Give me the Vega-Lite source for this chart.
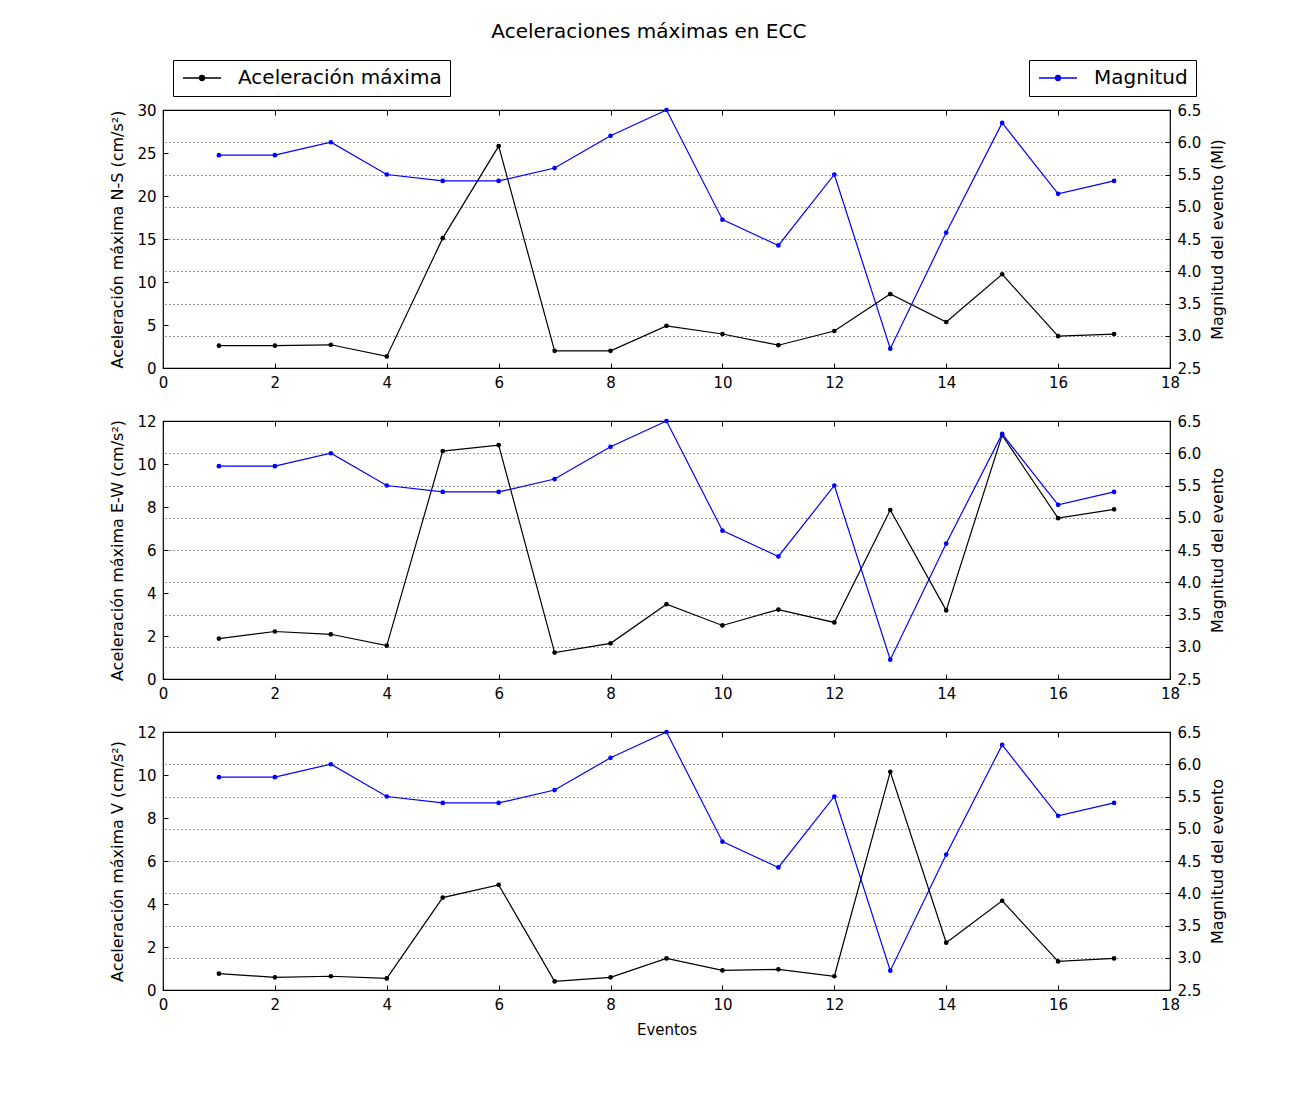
{
  "$schema": "https://vega.github.io/schema/vega-lite/v6.json",
  "padding": {"left": 109, "top": 21, "right": 10, "bottom": 10},
  "title": {"text": "Aceleraciones máximas en ECC", "fontSize": 20, "font": "DejaVu Sans", "fontWeight": "normal", "anchor": "middle", "offset": 17, "dx": -19, "color": "black"},
  "bounds": "flush",
  "spacing": 53,
  "data": {"values": [
    {"e": 1, "ns": 2.6, "ew": 1.88, "v": 0.76, "mag": 5.8},
    {"e": 2, "ns": 2.6, "ew": 2.21, "v": 0.59, "mag": 5.8},
    {"e": 3, "ns": 2.7, "ew": 2.08, "v": 0.64, "mag": 6.0},
    {"e": 4, "ns": 1.35, "ew": 1.55, "v": 0.54, "mag": 5.5},
    {"e": 5, "ns": 15.1, "ew": 10.6, "v": 4.3, "mag": 5.4},
    {"e": 6, "ns": 25.8, "ew": 10.88, "v": 4.89, "mag": 5.4},
    {"e": 7, "ns": 2.0, "ew": 1.23, "v": 0.4, "mag": 5.6},
    {"e": 8, "ns": 2.0, "ew": 1.66, "v": 0.59, "mag": 6.1},
    {"e": 9, "ns": 4.9, "ew": 3.48, "v": 1.47, "mag": 6.5},
    {"e": 10, "ns": 3.95, "ew": 2.49, "v": 0.91, "mag": 4.8},
    {"e": 11, "ns": 2.65, "ew": 3.23, "v": 0.96, "mag": 4.4},
    {"e": 12, "ns": 4.3, "ew": 2.63, "v": 0.64, "mag": 5.5},
    {"e": 13, "ns": 8.6, "ew": 7.86, "v": 10.15, "mag": 2.8},
    {"e": 14, "ns": 5.35, "ew": 3.19, "v": 2.2, "mag": 4.6},
    {"e": 15, "ns": 10.9, "ew": 11.34, "v": 4.15, "mag": 6.3},
    {"e": 16, "ns": 3.7, "ew": 7.48, "v": 1.33, "mag": 5.2},
    {"e": 17, "ns": 3.95, "ew": 7.89, "v": 1.47, "mag": 5.4}
  ]},
  "vconcat": [
    {
      "width": 1007, "height": 258,
      "layer": [
        {
          "mark": {"type": "line", "strokeWidth": 1.2, "point": {"filled": true, "size": 22}},
          "encoding": {
            "x": {"field": "e", "type": "quantitative", "scale": {"domain": [0, 18]}, "axis": {"values": [0,2,4,6,8,10,12,14,16,18], "title": null}},
            "y": {"field": "ns", "type": "quantitative", "scale": {"domain": [0, 30]}, "axis": {"values": [0,5,10,15,20,25,30], "title": "Aceleración máxima N-S (cm/s²)"}},
            "color": {"datum": "Aceleración máxima", "type": "nominal", "scale": {"range": ["black"]},
              "legend": {"orient": "none", "legendX": 10, "legendY": -50, "title": null,
                "symbolType": "M-1,0H3.75M1.685,0A0.31,0.31 0 1 1 1.065,0A0.31,0.31 0 1 1 1.685,0Z",
                "symbolSize": 256, "symbolStrokeWidth": 1.3, "symbolFillColor": "black", "symbolStrokeColor": "black"}}
          }
        },
        {
          "mark": {"type": "line", "strokeWidth": 1.2, "point": {"filled": true, "size": 22}},
          "encoding": {
            "x": {"field": "e", "type": "quantitative", "scale": {"domain": [0, 18]}, "axis": {"orient": "top", "values": [0,2,4,6,8,10,12,14,16,18], "labels": false, "title": null}},
            "y": {"field": "mag", "type": "quantitative", "scale": {"domain": [2.5, 6.5]}, "axis": {"orient": "right", "titleAngle": 270, "titleBaseline": "top", "titlePadding": 9, "values": [2.5,3,3.5,4,4.5,5,5.5,6,6.5], "format": ".1f", "grid": true, "title": "Magnitud del evento (Ml)"}},
            "color": {"datum": "Magnitud", "type": "nominal", "scale": {"range": ["#0000ff"]},
              "legend": {"orient": "none", "legendX": 866, "legendY": -50, "title": null,
                "symbolType": "M-1,0H3.75M1.685,0A0.31,0.31 0 1 1 1.065,0A0.31,0.31 0 1 1 1.685,0Z",
                "symbolSize": 256, "symbolStrokeWidth": 1.3, "symbolFillColor": "#0000ff", "symbolStrokeColor": "#0000ff"}}
          }
        }
      ],
      "resolve": {"scale": {"y": "independent", "color": "independent"}, "axis": {"x": "independent"}}
    },
    {
      "width": 1007, "height": 258,
      "layer": [
        {
          "mark": {"type": "line", "color": "black", "strokeWidth": 1.2, "point": {"filled": true, "size": 22, "color": "black"}},
          "encoding": {
            "x": {"field": "e", "type": "quantitative", "scale": {"domain": [0, 18]}, "axis": {"values": [0,2,4,6,8,10,12,14,16,18], "title": null}},
            "y": {"field": "ew", "type": "quantitative", "scale": {"domain": [0, 12]}, "axis": {"values": [0,2,4,6,8,10,12], "title": "Aceleración máxima E-W (cm/s²)"}}
          }
        },
        {
          "mark": {"type": "line", "color": "#0000ff", "strokeWidth": 1.2, "point": {"filled": true, "size": 22, "color": "#0000ff"}},
          "encoding": {
            "x": {"field": "e", "type": "quantitative", "scale": {"domain": [0, 18]}, "axis": {"orient": "top", "values": [0,2,4,6,8,10,12,14,16,18], "labels": false, "title": null}},
            "y": {"field": "mag", "type": "quantitative", "scale": {"domain": [2.5, 6.5]}, "axis": {"orient": "right", "titleAngle": 270, "titleBaseline": "top", "titlePadding": 9, "values": [2.5,3,3.5,4,4.5,5,5.5,6,6.5], "format": ".1f", "grid": true, "title": "Magnitud del evento"}}
          }
        }
      ],
      "resolve": {"scale": {"y": "independent"}, "axis": {"x": "independent"}}
    },
    {
      "width": 1007, "height": 258,
      "layer": [
        {
          "mark": {"type": "line", "color": "black", "strokeWidth": 1.2, "point": {"filled": true, "size": 22, "color": "black"}},
          "encoding": {
            "x": {"field": "e", "type": "quantitative", "scale": {"domain": [0, 18]}, "axis": {"values": [0,2,4,6,8,10,12,14,16,18], "title": "Eventos"}},
            "y": {"field": "v", "type": "quantitative", "scale": {"domain": [0, 12]}, "axis": {"values": [0,2,4,6,8,10,12], "title": "Aceleración máxima V (cm/s²)"}}
          }
        },
        {
          "mark": {"type": "line", "color": "#0000ff", "strokeWidth": 1.2, "point": {"filled": true, "size": 22, "color": "#0000ff"}},
          "encoding": {
            "x": {"field": "e", "type": "quantitative", "scale": {"domain": [0, 18]}, "axis": {"orient": "top", "values": [0,2,4,6,8,10,12,14,16,18], "labels": false, "title": null}},
            "y": {"field": "mag", "type": "quantitative", "scale": {"domain": [2.5, 6.5]}, "axis": {"orient": "right", "titleAngle": 270, "titleBaseline": "top", "titlePadding": 9, "values": [2.5,3,3.5,4,4.5,5,5.5,6,6.5], "format": ".1f", "grid": true, "title": "Magnitud del evento"}}
          }
        }
      ],
      "resolve": {"scale": {"y": "independent"}, "axis": {"x": "independent"}}
    }
  ],
  "config": {
    "font": "DejaVu Sans",
    "background": "white",
    "view": {"stroke": "black", "strokeWidth": 1.2},
    "axis": {
      "domain": false, "grid": false, "ticks": true, "tickSize": -5, "tickColor": "black", "tickWidth": 1,
      "labelFont": "DejaVu Sans", "labelFontSize": 15, "labelColor": "black", "labelPadding": 12,
      "labelFlush": false, "labelOverlap": false,
      "titleFont": "DejaVu Sans", "titleFontSize": 16, "titleFontWeight": "normal", "titleColor": "black", "titlePadding": 11,
      "gridColor": "black", "gridDash": [1, 3], "gridWidth": 0.8, "gridOpacity": 1
    },
    "axisX": {"titleFontSize": 15, "titlePadding": 10},
    "legend": {
      "strokeColor": "black", "fillColor": "white", "padding": 8, "cornerRadius": 0, "labelLimit": 0,
      "labelFont": "DejaVu Sans", "labelFontSize": 20, "labelColor": "black", "labelOffset": 37
    }
  }
}
